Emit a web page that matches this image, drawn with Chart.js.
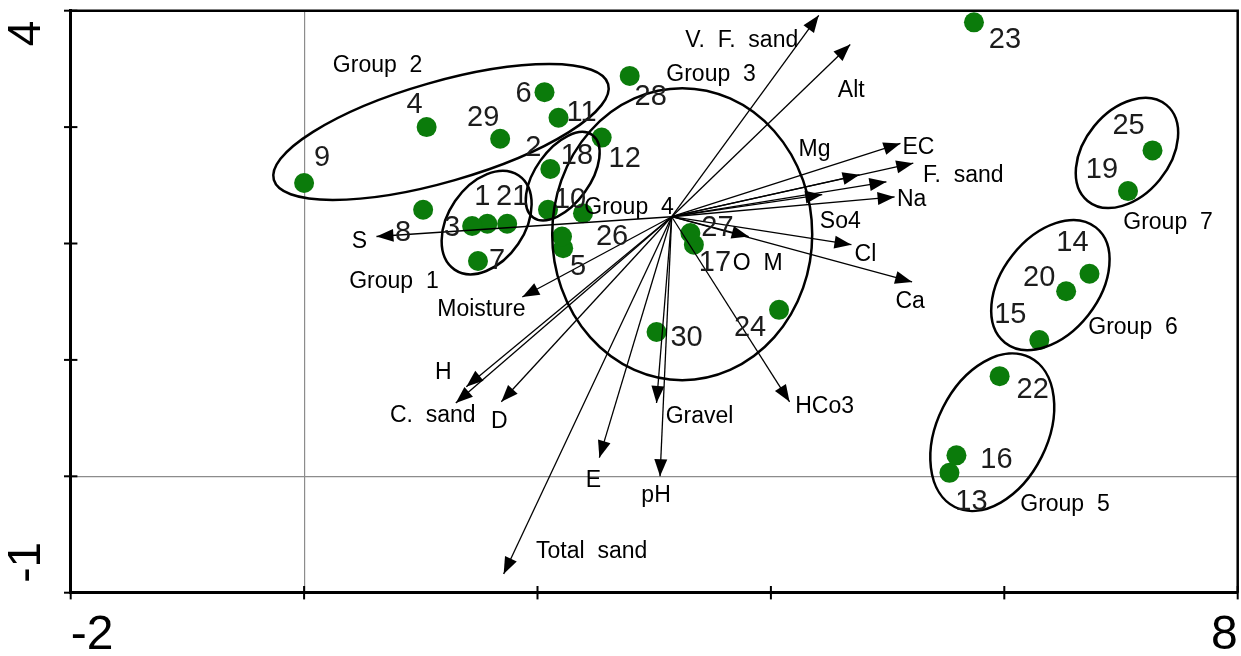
<!DOCTYPE html>
<html>
<head>
<meta charset="utf-8">
<script src="https://cdn.jsdelivr.net/npm/chart.js@4"></script>
<style>
  body { margin: 0; background: #fff; }
  #wrap { width: 1241px; height: 656px; position: relative; }
</style>
</head>
<body>
<div id="wrap"><canvas id="ordination"></canvas></div>
<script>
// Site scores (30 sites)
const siteIds = [1, 2, 3, 4, 5, 6, 7, 8, 9, 10, 11, 12, 13, 14, 15, 16, 17, 18, 19, 20, 21, 22, 23, 24, 25, 26, 27, 28, 29, 30];
const siteX = [1.57, 2.11, 1.44, 1.05, 2.22, 2.06, 1.49, 1.02, 0.00, 2.39, 2.18, 2.55, 5.53, 6.73, 6.30, 5.59, 3.34, 2.09, 7.06, 6.53, 1.74, 5.96, 5.74, 4.07, 7.27, 2.21, 3.31, 2.79, 1.68, 3.02];
const siteY = [2.17, 2.64, 2.15, 3.00, 1.96, 3.30, 1.85, 2.29, 2.52, 2.26, 3.08, 2.91, 0.03, 1.74, 1.17, 0.18, 1.99, 2.29, 2.45, 1.59, 2.17, 0.86, 3.90, 1.43, 2.80, 2.06, 2.09, 3.44, 2.90, 1.24];

// Environmental variable vectors, all drawn from one origin
const arrowOrigin = { x: 3.15, y: 2.23 };
const varNames = ['V.  F.  sand', 'Alt', 'EC', 'F.  sand', 'Mg', '', 'So4', 'Na', 'Cl', 'Ca', 'O  M', 'HCo3', 'Gravel', 'pH', 'E', 'Total  sand', 'D', 'C.  sand', 'H', 'Moisture', 'S'];
const varX = [4.41, 4.68, 5.11, 5.22, 4.76, 4.99, 4.44, 5.06, 4.69, 5.21, 3.81, 4.16, 3.02, 3.05, 2.53, 1.71, 1.69, 1.30, 1.39, 1.87, 0.62];
const varY = [3.96, 3.71, 2.86, 2.69, 2.59, 2.53, 2.42, 2.40, 1.99, 1.67, 2.06, 0.64, 0.63, 0.00, 0.16, -0.84, 0.64, 0.63, 0.77, 1.54, 2.06];

// Axis labels that are shown
const xTickLabels = [-2, 8];
const yTickLabels = [4, -1];

// Group names
const groupNames = ['Group  1', 'Group  2', '', 'Group  3', 'Group  4', 'Group  5', 'Group  6', 'Group  7'];

// ---- layout: ellipses (data units) and label offsets (px) ----
const groupShapes = [
  { cx: 1.564, cy: 2.180, a: 0.488, b: 0.328, ang: 55.7, lx: 0.77, ly: 1.67 },
  { cx: 1.173, cy: 2.958, a: 1.49, b: 0.43, ang: 16, lx: 0.63, ly: 3.525 },
  { cx: 2.216, cy: 2.578, a: 0.435, b: 0.234, ang: 54.4, lx: null, ly: null },
  { cx: 3.240, cy: 2.080, a: 1.114, b: 1.254, ang: 0, lx: 3.487, ly: 3.448 },
  { cx: null, cy: null, lx: 2.784, ly: 2.305 },
  { cx: 5.897, cy: 0.379, a: 0.717, b: 0.474, ang: 63.4, lx: 6.52, ly: -0.247 },
  { cx: 6.395, cy: 1.643, a: 0.629, b: 0.415, ang: 51.8, lx: 7.103, ly: 1.274 },
  { cx: 7.051, cy: 2.778, a: 0.532, b: 0.364, ang: 50.7, lx: 7.403, ly: 2.176 }
];
const siteLabelOffset = [
  [-5, -27], [-17, -21], [-20, 2], [-12, -22], [15, 19], [-21, 2], [19, 0], [-20, 23], [18, -25], [-13, -13],
  [23, -5], [23, 21], [22, 29], [-17, -31], [-29, -25], [40, 5], [21, 18], [29, -54], [-26, -21], [-27, -13],
  [5, -27], [33, 14], [31, 18], [-29, 18], [-24, -24], [50, 0], [27, -5], [21, 21], [-17, -21], [30, 6]
];
const varLabelOffset = [
  [-77, 25], [1, 46], [18, 4], [50, 12], [-45, -25], [0, 0], [18, 27], [17, 3], [14, 10], [-2, 20],
  [9, 27], [35, 5], [43, 14], [-4, 19], [-6, 23], [88, -22], [-2, 20], [-23, 13], [-23, -14], [-41, 13], [-17, 5]
];

const FONT = '"Liberation Sans", Arial, sans-serif';
const green = '#0b7b0b';

const datasets = [];
varNames.forEach((name, i) => {
  datasets.push({
    label: name || 'vector',
    type: 'scatter',
    showLine: true,
    data: [{ x: arrowOrigin.x, y: arrowOrigin.y }, { x: varX[i], y: varY[i] }],
    borderColor: '#000',
    borderWidth: 1.3,
    pointRadius: 0,
    order: 0,
    isArrow: true
  });
});
datasets.push({
  label: 'Sites',
  type: 'scatter',
  data: siteIds.map((id, i) => ({ x: siteX[i], y: siteY[i] })),
  backgroundColor: green,
  borderWidth: 0,
  pointRadius: 10,
  order: 1
});

const overlay = {
  id: 'overlay',
  afterDatasetsDraw(chart) {
    const { ctx, chartArea: a, scales: { x, y } } = chart;
    const ux = Math.abs(x.getPixelForValue(1) - x.getPixelForValue(0));
    const uy = Math.abs(y.getPixelForValue(0) - y.getPixelForValue(1));
    ctx.save();

    // top and right frame
    ctx.strokeStyle = '#000';
    ctx.lineWidth = 2.5;
    ctx.beginPath();
    ctx.moveTo(a.left, a.top);
    ctx.lineTo(a.right, a.top);
    ctx.lineTo(a.right, a.bottom);
    ctx.stroke();

    // cross ticks
    ctx.lineWidth = 2;
    x.ticks.forEach(t => {
      const px = x.getPixelForValue(t.value);
      ctx.beginPath(); ctx.moveTo(px, a.bottom - 6.7); ctx.lineTo(px, a.bottom + 6.7); ctx.stroke();
    });
    y.ticks.forEach(t => {
      const py = y.getPixelForValue(t.value);
      ctx.beginPath(); ctx.moveTo(a.left - 6.7, py); ctx.lineTo(a.left + 6.7, py); ctx.stroke();
    });

    // rotated y tick labels
    ctx.fillStyle = '#000';
    ctx.font = '46px ' + FONT;
    ctx.textBaseline = 'middle';
    yTickLabels.forEach(v => {
      const py = y.getPixelForValue(v);
      ctx.save();
      ctx.translate(27, py);
      ctx.rotate(-Math.PI / 2);
      const top = v === y.max;
      ctx.textAlign = top ? 'right' : 'left';
      ctx.fillText(String(v), top ? -10 : 10, 0);
      ctx.restore();
    });

    // group ellipses
    ctx.lineWidth = 2.5;
    groupShapes.forEach(g => {
      if (g.cx === null) return;
      ctx.beginPath();
      ctx.ellipse(x.getPixelForValue(g.cx), y.getPixelForValue(g.cy), g.a * ux, g.b * uy,
        -g.ang * Math.PI / 180, 0, Math.PI * 2);
      ctx.stroke();
    });

    // arrow heads + variable names
    ctx.font = '23px ' + FONT;
    ctx.textAlign = 'center';
    let k = 0;
    chart.data.datasets.forEach((ds, di) => {
      if (!ds.isArrow) return;
      const pts = chart.getDatasetMeta(di).data;
      const p0 = pts[0], p1 = pts[1];
      const ang = Math.atan2(p1.y - p0.y, p1.x - p0.x);
      const L = 17, W = 6.5;
      ctx.beginPath();
      ctx.moveTo(p1.x, p1.y);
      ctx.lineTo(p1.x - L * Math.cos(ang) + W * Math.sin(ang), p1.y - L * Math.sin(ang) - W * Math.cos(ang));
      ctx.lineTo(p1.x - L * Math.cos(ang) - W * Math.sin(ang), p1.y - L * Math.sin(ang) + W * Math.cos(ang));
      ctx.closePath();
      ctx.fill();
      const name = varNames[k];
      const off = varLabelOffset[k];
      if (name) ctx.fillText(name, p1.x + off[0], p1.y + off[1]);
      k++;
    });

    // group names
    groupShapes.forEach((g, i) => {
      if (!groupNames[i]) return;
      ctx.fillText(groupNames[i], x.getPixelForValue(g.lx), y.getPixelForValue(g.ly));
    });

    // site numbers
    ctx.font = '29px ' + FONT;
    ctx.fillStyle = '#1c1c1c';
    const siteMeta = chart.getDatasetMeta(chart.data.datasets.length - 1).data;
    siteIds.forEach((id, i) => {
      const p = siteMeta[i];
      ctx.fillText(String(id), p.x + siteLabelOffset[i][0], p.y + siteLabelOffset[i][1]);
    });

    ctx.restore();
  }
};

const gridColor = c => (c.tick && c.tick.value === 0 ? '#8c8c8c' : 'rgba(0,0,0,0)');

new Chart(document.getElementById('ordination'), {
  type: 'scatter',
  data: { datasets },
  options: {
    responsive: true,
    maintainAspectRatio: false,
    animation: false,
    layout: { autoPadding: false, padding: { top: 10.7, right: 3.3, left: 0, bottom: 0 } },
    plugins: { legend: { display: false }, tooltip: { enabled: false } },
    scales: {
      x: {
        type: 'linear',
        min: -2, max: 8,
        afterFit: s => { s.height = 63.3; s.paddingLeft = 0; s.paddingRight = 0; },
        ticks: {
          stepSize: 2,
          align: 'inner',
          padding: 0,
          color: '#000',
          font: { size: 48, family: FONT },
          callback: v => (xTickLabels.includes(v) ? String(v) : '')
        },
        grid: { color: gridColor, lineWidth: 1.2, drawTicks: true, tickLength: 14, tickColor: 'rgba(0,0,0,0)' },
        border: { color: '#000', width: 3 }
      },
      y: {
        type: 'linear',
        min: -1, max: 4,
        afterFit: s => { s.width = 70.7; s.paddingTop = 0; s.paddingBottom = 0; },
        ticks: { stepSize: 1, display: false, padding: 0 },
        grid: { color: gridColor, lineWidth: 1.2, drawTicks: false },
        border: { color: '#000', width: 3 }
      }
    }
  },
  plugins: [overlay]
});
</script>
</body>
</html>
